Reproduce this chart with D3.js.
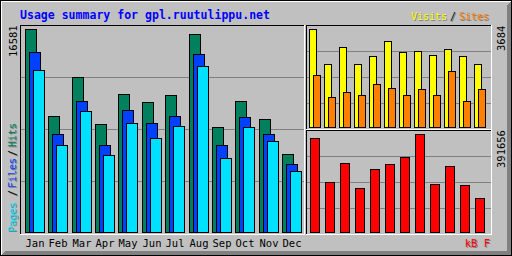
<!DOCTYPE html>
<html>
<head>
<meta charset="utf-8">
<script src="https://cdn.jsdelivr.net/npm/d3@7"></script>
<style>
  html, body { margin: 0; padding: 0; background: #c0c0c0; }
  svg { display: block; }
</style>
</head>
<body>
<div id="chart"></div>
<script>
// --- data ---
const title = "Usage summary for gpl.ruutulippu.net";
const months = ["Jan", "Feb", "Mar", "Apr", "May", "Jun", "Jul", "Aug", "Sep", "Oct", "Nov", "Dec"];
const hits   = [16581, 9460, 12650, 8810, 11260, 10610, 11180, 16170, 8570, 10690, 9220, 6360];
const files  = [14700, 7990, 10690, 7090, 9960, 8890, 9460, 14540, 7090, 9380, 7990, 5540];
const pages  = [13230, 7090, 9870, 6270, 8890, 7670, 8650, 13550, 6030, 8570, 7420, 4970];
const visits = [3684, 2368, 3007, 2368, 2669, 3233, 2819, 2857, 2706, 2932, 2669, 2368];
const sites  = [1955, 1128, 1316, 1203, 1616, 1466, 1203, 1428, 1203, 2105, 977, 1428];
const kbytes = [375671, 199825, 275759, 175846, 251780, 271762, 299738, 391656, 191832, 263769, 187836, 135881];

const W = 512, H = 256;
const grey = "#c0c0c0", dkgrey = "#808080";
const font = "'DejaVu Sans Mono', 'Liberation Mono', monospace";

const svg = d3.select("#chart").append("svg")
    .attr("width", W)
    .attr("height", H)
    .attr("shape-rendering", "crispEdges");

svg.append("rect").attr("width", W).attr("height", H).attr("fill", grey);

// 1px line helper (pixel coords)
function hline(g, x1, x2, y, c) {
    g.append("line").attr("x1", x1).attr("x2", x2 + 1)
        .attr("y1", y + 0.5).attr("y2", y + 0.5).attr("stroke", c);
}
function vline(g, x, y1, y2, c) {
    g.append("line").attr("x1", x + 0.5).attr("x2", x + 0.5)
        .attr("y1", y1).attr("y2", y2 + 1).attr("stroke", c);
}

// outer frame with shadow
const frame = svg.append("g");
frame.append("polygon")
    .attr("points", "511,1 511,255 1,255 5,251 507,251 507,5")
    .attr("fill", dkgrey);
hline(frame, 0, 511, 0, "#000");
vline(frame, 0, 0, 255, "#000");
hline(frame, 1, 510, 1, "#fff");
vline(frame, 1, 1, 254, "#fff");
hline(frame, 0, 511, 255, "#000");
vline(frame, 511, 0, 255, "#000");

// inset panels: black top/left, white bottom/right
function panel(x1, y1, x2, y2) {
    const g = svg.append("g");
    hline(g, x1, x2, y1, "#000");
    vline(g, x1, y1, y2, "#000");
    hline(g, x1, x2, y2, "#fff");
    vline(g, x2, y1, y2, "#fff");
}

// grid lines at quarters of each panel
function grid(x1, x2, yTop, yBot) {
    const gy = d3.scaleLinear().domain([0, 4]).range([yBot, yTop]);
    const g = svg.append("g");
    [1, 2, 3].forEach(k => hline(g, x1, x2, Math.round(gy(k)), dkgrey));
}

grid(21, 303, 25, 233);
grid(307, 490, 25, 129);
grid(307, 490, 130, 234);

panel(20, 25, 304, 234);
panel(306, 25, 491, 129);
panel(306, 130, 491, 234);

// bars with black outline
function bars(values, x, y, base, off, w, color) {
    svg.append("g").selectAll("rect")
        .data(values)
        .enter().append("rect")
        .attr("x", (d, i) => Math.round(x(months[i])) + off + 0.5)
        .attr("y", d => Math.round(y(d)) + 0.5)
        .attr("width", w - 1)
        .attr("height", d => base - Math.round(y(d)))
        .attr("fill", color)
        .attr("stroke", "#000");
}

// main panel: hits / files / pages
const xMain = d3.scalePoint().domain(months).range([25, 282]);
const yMain = d3.scaleLinear().domain([0, d3.max(hits)]).range([232, 29]);
bars(hits, xMain, yMain, 232, 0, 12, "#00805c");
bars(files, xMain, yMain, 232, 4, 12, "#0040ff");
bars(pages, xMain, yMain, 232, 8, 12, "#00e0ff");

// top right: visits / sites
const xSmall = d3.scalePoint().domain(months).range([309, 474]);
const yVisits = d3.scaleLinear().domain([0, d3.max(visits)]).range([127, 29]);
bars(visits, xSmall, yVisits, 127, 0, 8, "#ffff00");
bars(sites, xSmall, yVisits, 127, 4, 8, "#ff8000");

// bottom right: kbytes
const yKb = d3.scaleLinear().domain([0, d3.max(kbytes)]).range([232, 134]);
bars(kbytes, xSmall, yKb, 232, 1, 10, "#ff0000");

// --- text ---
function label(x, y, txt, color, opts = {}) {
    const g = svg.append("g");
    const mk = (dx, dy, c) => {
        const t = g.append("text")
            .attr("transform", opts.up
                ? `translate(${x + dx},${y + dy}) rotate(-90)`
                : `translate(${x + dx},${y + dy})`)
            .attr("font-family", font)
            .attr("font-size", opts.size || "10.5px")
            .attr("font-weight", opts.bold ? "bold" : "normal")
            .attr("text-anchor", opts.anchor || "start")
            .attr("fill", c)
            .text(txt);
        if (opts.len) t.attr("textLength", opts.len).attr("lengthAdjust", "spacing");
    };
    if (opts.shadow) mk(1, 1, dkgrey);
    mk(0, 0, color);
}

label(20, 19, title, "#0000ff", { bold: true, size: "11.5px", len: 250 });

label(411, 20, "Visits", "#ffff00", { shadow: true, size: "10px" });
label(450, 20, "/", "#000", { shadow: true, size: "10px" });
label(459, 20, "Sites", "#ff8000", { shadow: true, size: "10px" });

label(16, 232, "Pages", "#00e0ff", { up: true, shadow: true, size: "10px" });
label(16, 196, "/", "#000", { up: true, shadow: true, size: "10px" });
label(16, 188, "Files", "#0040ff", { up: true, shadow: true, size: "10px" });
label(16, 156, "/", "#000", { up: true, shadow: true, size: "10px" });
label(16, 147, "Hits", "#00805c", { up: true, shadow: true, size: "10px" });

label(490, 247, "kB F", "#ff0000", { anchor: "end", shadow: true });

// max value labels
const maxHits = d3.max(hits), maxVisits = d3.max(visits), maxKb = d3.max(kbytes);
label(17, 27 + String(maxHits).length * 6, String(maxHits), "#000", { up: true });
label(505, 27 + String(maxVisits).length * 6, String(maxVisits), "#000", { up: true });
label(505, 132 + String(maxKb).length * 6, String(maxKb), "#000", { up: true });

// month labels
svg.append("g").selectAll("text")
    .data(months)
    .enter().append("text")
    .attr("x", d => Math.round(xMain(d)) + 10)
    .attr("y", 247)
    .attr("text-anchor", "middle")
    .attr("font-family", font)
    .attr("font-size", "10.5px")
    .attr("fill", "#000")
    .text(d => d);
</script>
</body>
</html>
